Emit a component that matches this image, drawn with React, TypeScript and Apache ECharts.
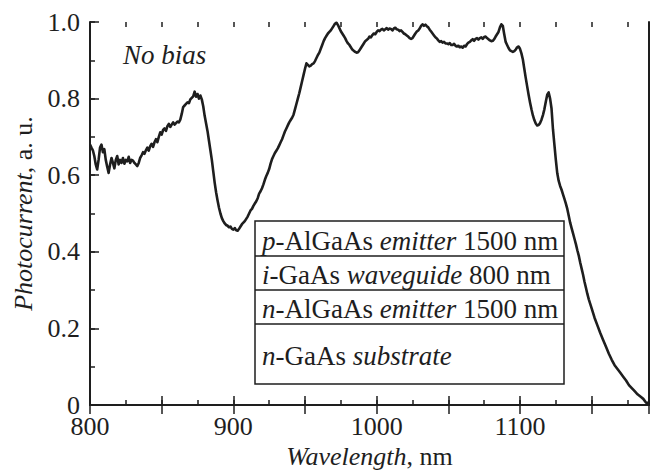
import React, { useEffect, useRef } from "react";
import * as echarts from "echarts";

// Photocurrent spectrum, [wavelength nm, photocurrent a.u.]
const shortWaveSegment: number[][] = [
  [800, 0.68], [801, 0.672], [802, 0.665], [803, 0.65], [804, 0.628], [805, 0.615], [806, 0.64], [807, 0.672],
  [808, 0.68], [809, 0.66], [810, 0.668], [811, 0.64], [812, 0.622], [813, 0.606], [814, 0.628], [815, 0.645],
  [816, 0.632], [817, 0.618], [818, 0.64], [819, 0.65], [820, 0.628], [821, 0.64], [822, 0.632], [823, 0.645],
  [824, 0.63], [825, 0.64], [826, 0.636], [827, 0.648], [828, 0.632], [829, 0.64], [830, 0.638], [831, 0.632],
  [832, 0.628], [833, 0.624], [834, 0.632], [835, 0.645], [836, 0.652], [837, 0.66], [838, 0.656], [839, 0.665],
  [840, 0.672], [841, 0.664], [842, 0.676], [843, 0.682], [844, 0.674], [845, 0.686], [846, 0.694], [847, 0.686],
  [848, 0.7], [849, 0.712], [850, 0.706], [851, 0.718], [852, 0.722], [853, 0.716], [854, 0.728], [855, 0.734],
  [856, 0.726], [857, 0.732], [858, 0.738], [859, 0.732], [860, 0.736], [861, 0.74], [862, 0.738], [863, 0.745],
  [864, 0.76], [865, 0.778], [866, 0.782], [867, 0.786], [868, 0.79], [869, 0.788], [870, 0.798], [871, 0.802],
  [872, 0.806], [873, 0.818], [874, 0.805], [875, 0.812], [876, 0.8], [877, 0.808], [878, 0.798],
];

const dipSegment: number[][] = [
  [879, 0.78], [880, 0.755], [881, 0.735], [882, 0.715], [883, 0.69], [884, 0.665], [885, 0.64], [886, 0.61],
  [887, 0.58], [888, 0.555], [889, 0.534], [890, 0.515], [891, 0.5], [892, 0.488], [893, 0.48], [894, 0.474],
  [895, 0.47], [896, 0.468], [897, 0.464], [898, 0.466], [899, 0.46], [900, 0.458], [901, 0.462], [902, 0.456],
  [903, 0.455], [904, 0.46], [905, 0.466], [906, 0.472], [907, 0.476], [908, 0.48], [909, 0.486], [910, 0.492],
  [911, 0.5], [912, 0.508], [913, 0.512], [914, 0.52], [915, 0.526], [916, 0.532], [917, 0.54], [918, 0.552],
  [919, 0.558], [920, 0.566], [921, 0.576], [922, 0.588], [923, 0.598], [924, 0.606], [925, 0.616], [926, 0.63],
  [927, 0.642], [928, 0.65], [929, 0.658], [930, 0.664], [931, 0.67], [932, 0.678], [933, 0.686], [934, 0.694],
  [935, 0.704], [936, 0.714], [937, 0.722], [938, 0.73], [939, 0.738], [940, 0.744], [941, 0.75], [942, 0.758],
  [943, 0.772], [944, 0.786], [945, 0.8], [946, 0.814], [947, 0.83], [948, 0.846], [949, 0.862], [950, 0.878],
  [951, 0.892], [952, 0.888], [953, 0.884], [954, 0.886], [955, 0.89], [956, 0.892], [957, 0.898], [958, 0.906],
  [959, 0.914], [960, 0.92], [961, 0.93], [962, 0.94], [963, 0.95], [964, 0.958], [965, 0.964], [966, 0.97],
  [967, 0.974], [968, 0.978], [969, 0.984], [970, 0.99], [971, 0.996],
];

const plateauSegment: number[][] = [
  [972, 0.998], [973, 0.992], [974, 0.984], [975, 0.976], [976, 0.97], [977, 0.964], [978, 0.958], [979, 0.95],
  [980, 0.944], [981, 0.94], [982, 0.934], [983, 0.928], [984, 0.925], [985, 0.922], [986, 0.92], [987, 0.921],
  [988, 0.926], [989, 0.932], [990, 0.938], [991, 0.944], [992, 0.95], [993, 0.953], [994, 0.956], [995, 0.962],
  [996, 0.96], [997, 0.966], [998, 0.97], [999, 0.968], [1000, 0.974], [1001, 0.978], [1002, 0.976], [1003, 0.98],
  [1004, 0.982], [1005, 0.978], [1006, 0.981], [1007, 0.984], [1008, 0.98], [1009, 0.983], [1010, 0.982],
  [1011, 0.978], [1012, 0.983], [1013, 0.985], [1014, 0.981], [1015, 0.98], [1016, 0.976], [1017, 0.978],
  [1018, 0.974], [1019, 0.97], [1020, 0.968], [1021, 0.965], [1022, 0.962], [1023, 0.958], [1024, 0.956],
  [1025, 0.958], [1026, 0.964], [1027, 0.97], [1028, 0.975], [1029, 0.978], [1030, 0.983], [1031, 0.99],
  [1032, 0.994], [1033, 0.99], [1034, 0.993], [1035, 0.989], [1036, 0.986], [1037, 0.98], [1038, 0.975],
  [1039, 0.97], [1040, 0.965], [1041, 0.96], [1042, 0.957], [1043, 0.952], [1044, 0.948], [1045, 0.95],
  [1046, 0.946], [1047, 0.948], [1048, 0.944], [1049, 0.944], [1050, 0.942], [1051, 0.945], [1052, 0.94],
  [1053, 0.94], [1054, 0.943], [1055, 0.938], [1056, 0.936], [1057, 0.938], [1058, 0.934], [1059, 0.936],
  [1060, 0.933], [1061, 0.938], [1062, 0.936], [1063, 0.942], [1064, 0.946], [1065, 0.948], [1066, 0.952],
  [1067, 0.955], [1068, 0.951], [1069, 0.956], [1070, 0.958], [1071, 0.954], [1072, 0.958], [1073, 0.96],
  [1074, 0.956], [1075, 0.961], [1076, 0.962], [1077, 0.958], [1078, 0.955], [1079, 0.952], [1080, 0.95],
  [1081, 0.951], [1082, 0.955], [1083, 0.962], [1084, 0.968], [1085, 0.974], [1086, 0.986], [1087, 0.994],
  [1088, 0.99], [1089, 0.968], [1090, 0.948], [1091, 0.94], [1092, 0.932], [1093, 0.926], [1094, 0.924],
  [1095, 0.922], [1096, 0.924], [1097, 0.928], [1098, 0.934], [1099, 0.936], [1100, 0.93],
];

const tailSegment: number[][] = [
  [1101, 0.918], [1102, 0.902], [1103, 0.878], [1104, 0.854], [1105, 0.832], [1106, 0.81], [1107, 0.79],
  [1108, 0.772], [1109, 0.756], [1110, 0.744], [1111, 0.735], [1112, 0.73], [1113, 0.731], [1114, 0.736],
  [1115, 0.745], [1116, 0.757], [1117, 0.772], [1118, 0.792], [1119, 0.81], [1120, 0.816], [1121, 0.8],
  [1122, 0.774], [1123, 0.72], [1124, 0.68], [1125, 0.64], [1126, 0.605], [1127, 0.585], [1128, 0.572],
  [1129, 0.562], [1130, 0.55], [1131, 0.538], [1132, 0.526], [1133, 0.512], [1134, 0.494], [1135, 0.476],
  [1136, 0.462], [1137, 0.448], [1138, 0.434], [1139, 0.42], [1140, 0.404], [1141, 0.39], [1142, 0.372],
  [1143, 0.356], [1144, 0.34], [1145, 0.322], [1146, 0.306], [1147, 0.29], [1148, 0.276], [1149, 0.264],
  [1150, 0.252], [1152, 0.228], [1154, 0.208], [1156, 0.188], [1158, 0.17], [1160, 0.152], [1162, 0.134],
  [1164, 0.118], [1166, 0.104], [1168, 0.094], [1170, 0.084], [1172, 0.074], [1174, 0.064], [1176, 0.052],
  [1178, 0.044], [1180, 0.036], [1182, 0.028], [1184, 0.022], [1186, 0.016], [1188, 0.006], [1189, 0.004],
  [1190, 0.008],
];

const xRange = [800, 1190];
const yRange = [0, 1];

const layerLabels = [
  "{i|p}-AlGaAs {i|emitter} 1500 nm",
  "{i|i}-GaAs {i|waveguide} 800 nm",
  "{i|n}-AlGaAs {i|emitter} 1500 nm",
  "{i|n}-GaAs {i|substrate}",
];

const INK = "#1e1e1e";
const FONT = "Liberation Serif";
const FS = 26;
const LFS = 27;

export default function App() {
  const ref = useRef<HTMLDivElement>(null);
  useEffect(() => {
    if (!ref.current) return;
    const chart = echarts.init(ref.current, undefined, { renderer: "svg" });
    const data = [...shortWaveSegment, ...dipSegment, ...plateauSegment, ...tailSegment];
    const rich = { i: { fontStyle: "italic", fontSize: FS, fontFamily: FONT, color: INK } };

    const boxLeft = 255, boxRight = 564;
    const rowEdges = [221, 256, 290, 324, 384];
    const graphics: any[] = [
      {
        type: "rect",
        shape: { x: boxLeft, y: rowEdges[0], width: boxRight - boxLeft, height: rowEdges[4] - rowEdges[0] },
        style: { fill: "#fff", stroke: INK, lineWidth: 1.5 },
      },
    ];
    for (let k = 1; k < 4; k++) {
      graphics.push({
        type: "line",
        shape: { x1: boxLeft, y1: rowEdges[k], x2: boxRight, y2: rowEdges[k] },
        style: { stroke: INK, lineWidth: 1.5 },
      });
    }
    layerLabels.forEach((t, k) => {
      graphics.push({
        type: "text",
        x: 262,
        y: (rowEdges[k] + rowEdges[k + 1]) / 2 + 2,
        style: {
          text: t,
          fontSize: LFS,
          fontFamily: FONT,
          fill: INK,
          verticalAlign: "middle",
          align: "left",
          rich: { i: { fontStyle: "italic", fontSize: LFS, fontFamily: FONT, fill: INK } },
        },
      });
    });
    graphics.push({
      type: "text",
      x: 123,
      y: 55,
      style: {
        text: "No bias",
        fontSize: LFS,
        fontStyle: "italic",
        fontFamily: FONT,
        fill: INK,
        verticalAlign: "middle",
      },
    });

    const baseX = {
      type: "value",
      min: xRange[0],
      max: xRange[1],
      splitLine: { show: false },
    };
    const baseY = {
      type: "value",
      min: yRange[0],
      max: yRange[1],
      splitLine: { show: false },
    };

    chart.setOption({
      animation: false,
      textStyle: { fontFamily: FONT },
      grid: { left: 90, right: 3, top: 22, bottom: 66, containLabel: false, outerBoundsMode: "none" },
      xAxis: [
        {
          ...baseX,
          position: "bottom",
          interval: 50,
          axisLine: { show: true, lineStyle: { color: INK, width: 2 } },
          axisTick: { show: true, inside: true, length: 9, lineStyle: { color: INK, width: 1.5 } },
          axisLabel: {
            formatter: (v: number) => (v % 100 === 0 ? String(v) : ""),
            fontSize: FS,
            fontFamily: FONT,
            color: INK,
            margin: 11,
            lineHeight: 20,
          },
          name: "{i|Wavelength}, nm",
          nameLocation: "middle",
          nameGap: 31,
          nameTextStyle: { fontSize: FS, fontFamily: FONT, color: INK, rich },
        },
        {
          ...baseX,
          position: "bottom",
          interval: 25,
          axisLine: { show: false },
          axisTick: { show: true, inside: true, length: 5, lineStyle: { color: INK, width: 1.5 } },
          axisLabel: { show: false },
        },
        {
          ...baseX,
          position: "top",
          interval: 50,
          axisLine: { show: true, lineStyle: { color: INK, width: 2 } },
          axisTick: { show: true, inside: true, length: 9, lineStyle: { color: INK, width: 1.5 } },
          axisLabel: { show: false },
        },
        {
          ...baseX,
          position: "top",
          interval: 25,
          axisLine: { show: false },
          axisTick: { show: true, inside: true, length: 5, lineStyle: { color: INK, width: 1.5 } },
          axisLabel: { show: false },
        },
      ],
      yAxis: [
        {
          ...baseY,
          position: "left",
          interval: 0.2,
          axisLine: { show: true, lineStyle: { color: INK, width: 2 } },
          axisTick: { show: true, inside: true, length: 9, lineStyle: { color: INK, width: 1.5 } },
          axisLabel: {
            formatter: (v: number) => (v === 0 ? "0" : v.toFixed(1)),
            fontSize: FS,
            fontFamily: FONT,
            color: INK,
            margin: 10,
            lineHeight: 20,
          },
          name: "{i|Photocurrent}, a. u.",
          nameLocation: "middle",
          nameGap: 47,
          nameTextStyle: { fontSize: FS, fontFamily: FONT, color: INK, rich },
        },
        {
          ...baseY,
          position: "left",
          interval: 0.1,
          axisLine: { show: false },
          axisTick: { show: true, inside: true, length: 5, lineStyle: { color: INK, width: 1.5 } },
          axisLabel: { show: false },
        },
        {
          ...baseY,
          position: "right",
          interval: 0.2,
          axisLine: { show: true, lineStyle: { color: INK, width: 2 } },
          axisTick: { show: false },
          axisLabel: { show: false },
        },
      ],
      series: [
        {
          type: "line",
          xAxisIndex: 0,
          yAxisIndex: 0,
          data,
          showSymbol: false,
          symbol: "none",
          lineStyle: { color: INK, width: 2.6, join: "round" },
          silent: true,
          z: 3,
        },
      ],
      graphic: graphics,
    });
    return () => chart.dispose();
  }, []);

  return (
    <div
      ref={ref}
      style={{ position: "absolute", left: 0, top: 0, width: 652, height: 471, background: "#fff" }}
    />
  );
}
